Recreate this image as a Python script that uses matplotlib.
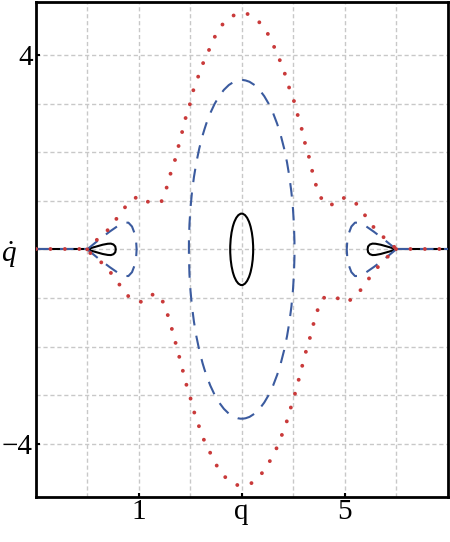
import matplotlib
matplotlib.use("Agg")
import matplotlib.pyplot as plt
from matplotlib.patches import Ellipse

plt.rcParams['font.family'] = ['Liberation Serif', 'DejaVu Serif']
plt.rcParams['mathtext.fontset'] = 'custom'
plt.rcParams['mathtext.it'] = 'Liberation Serif:italic'
plt.rcParams['mathtext.rm'] = 'Liberation Serif'

# axis setup
x_range = [-1, 7]
y_range = [-5.09, 5.09]
x_ticks = [1, 3, 5]
x_ticklabels = ['1', 'q', '5']
y_ticks = [-4, 0, 4]
y_ticklabels = ['\u22124', '', '4']
y_label = r'$\dot{q}$'
grid_x = [0, 1, 2, 3, 4, 5, 6]
grid_y = [-4, -3, -2, -1, 0, 1, 2, 3, 4]

# black solid contour: central ellipse + two tear-drop loops + tails on the axis
black_center = (3.0, 0.0)
black_size = (0.446, 1.47)
black_left_q = [0, 0.1, 0.2, 0.3, 0.4, 0.46, 0.51, 0.545, 0.555, 0.545, 0.51, 0.46, 0.4, 0.3, 0.2, 0.1, 0]
black_left_p = [0, 0.035, 0.065, 0.095, 0.115, 0.118, 0.10, 0.06, 0, -0.06, -0.10, -0.118, -0.115, -0.095, -0.065, -0.035, 0]
black_right_q = [6, 5.9, 5.8, 5.7, 5.6, 5.54, 5.49, 5.455, 5.445, 5.455, 5.49, 5.54, 5.6, 5.7, 5.8, 5.9, 6]
black_right_p = [0, 0.035, 0.065, 0.095, 0.115, 0.118, 0.10, 0.06, 0, -0.06, -0.10, -0.118, -0.115, -0.095, -0.065, -0.035, 0]
tail_left_q = [-1, 0]
tail_right_q = [6, 7]
tail_p = [0, 0]

# blue dashed contour
blue_center = (3.0, 0.0)
blue_size = (2.05, 6.97)
blue_left_q = [0, 0.22, 0.43, 0.62, 0.72, 0.80, 0.87, 0.92, 0.95, 0.96, 0.95, 0.92, 0.87, 0.80, 0.72, 0.62, 0.43, 0.22, 0]
blue_left_p = [0, 0.19, 0.36, 0.50, 0.545, 0.55, 0.47, 0.33, 0.17, 0, -0.17, -0.33, -0.47, -0.55, -0.545, -0.50, -0.36, -0.19, 0]
blue_right_q = [6, 5.78, 5.57, 5.38, 5.28, 5.20, 5.13, 5.08, 5.05, 5.04, 5.05, 5.08, 5.13, 5.20, 5.28, 5.38, 5.57, 5.78, 6]
blue_right_p = [0, 0.19, 0.36, 0.50, 0.545, 0.55, 0.47, 0.33, 0.17, 0, -0.17, -0.33, -0.47, -0.55, -0.545, -0.50, -0.36, -0.19, 0]

# red dotted contour (upper branch left->right, then lower branch right->left)
red_q = [0, 0.01, 0.25, 0.44, 0.61, 0.78, 0.99, 1.21, 1.44, 1.54, 1.61, 1.70, 1.77, 1.84, 1.91,
         1.99, 2.06, 2.15, 2.25, 2.36, 2.47, 2.62, 2.83, 3.09, 3.33, 3.50, 3.62, 3.73, 3.83, 3.91,
         4.01, 4.08, 4.16, 4.22, 4.30, 4.36, 4.43, 4.53, 4.71, 4.93, 5.17, 5.35, 5.50, 5.67, 5.90, 6.0,
         5.74, 5.57, 5.40, 5.24, 5.03, 4.78, 4.58, 4.47, 4.39, 4.32, 4.24, 4.17, 4.10, 4.03, 3.95,
         3.87, 3.78, 3.67, 3.54, 3.39, 3.18, 2.91, 2.67, 2.52, 2.39, 2.27, 2.17, 2.08, 2.01, 1.93,
         1.86, 1.79, 1.72, 1.65, 1.57, 1.48, 1.31, 1.08, 0.84, 0.67, 0.50, 0.34, 0.11, 0]
red_p = [0, 0.07, 0.24, 0.44, 0.69, 0.93, 1.10, 0.96, 0.98, 1.26, 1.53, 1.82, 2.11, 2.40, 2.70,
         2.97, 3.27, 3.54, 3.83, 4.09, 4.36, 4.62, 4.81, 4.86, 4.69, 4.45, 4.19, 3.92, 3.64, 3.36,
         3.07, 2.79, 2.50, 2.22, 1.93, 1.65, 1.36, 1.07, 0.89, 1.07, 1.01, 0.77, 0.535, 0.32, 0.13, 0,
         -0.24, -0.46, -0.70, -0.94, -1.10, -0.96, -1.00, -1.26, -1.55, -1.84, -2.13, -2.42, -2.71, -2.99, -3.27,
         -3.56, -3.82, -4.11, -4.37, -4.61, -4.82, -4.85, -4.68, -4.46, -4.19, -3.93, -3.64, -3.36, -3.08, -2.80,
         -2.51, -2.22, -1.94, -1.66, -1.37, -1.09, -0.90, -1.09, -1.02, -0.79, -0.54, -0.32, -0.14, 0]

black = '#000000'
blue = '#3b5b9f'
red = '#c93a3a'

fig = plt.figure(figsize=(4.5, 5.42), dpi=100)
ax = fig.add_axes([0.0793, 0.0836, 0.9156, 0.9127])

# black solid
ax.add_patch(Ellipse(black_center, black_size[0], black_size[1], fill=False, ec=black, lw=1.5, zorder=3))
ax.plot(black_left_q, black_left_p, color=black, lw=1.5, zorder=3)
ax.plot(black_right_q, black_right_p, color=black, lw=1.5, zorder=3)
ax.plot(tail_left_q, tail_p, color=black, lw=1.5, zorder=3)
ax.plot(tail_right_q, tail_p, color=black, lw=1.5, zorder=3)

# blue dashed
blue_dash = (0, (6.5, 5))
ax.add_patch(Ellipse(blue_center, blue_size[0], blue_size[1], fill=False, ec=blue, lw=1.5,
                     linestyle=blue_dash, zorder=4))
for qq, pp in [(blue_left_q, blue_left_p), (blue_right_q, blue_right_p),
               (tail_left_q, tail_p), (tail_right_q, tail_p)]:
    ax.plot(qq, pp, color=blue, lw=1.5, linestyle=blue_dash, zorder=4)

# red dotted
red_dot = (0, (0.01, 3.7))
for qq, pp in [(red_q, red_p), (tail_left_q, tail_p), (tail_right_q, tail_p)]:
    ax.plot(qq, pp, color=red, lw=2.8, linestyle=red_dot, dash_capstyle='round', zorder=5)

ax.set_xlim(x_range)
ax.set_ylim(y_range)
ax.set_xticks(x_ticks)
ax.set_xticklabels(x_ticklabels)
ax.set_yticks(y_ticks)
ax.set_yticklabels(y_ticklabels)
ax.set_xticks(grid_x, minor=True)
ax.set_yticks(grid_y, minor=True)
ax.tick_params(which='major', direction='in', length=3, width=1.5, labelsize=21, pad=2)
ax.tick_params(which='minor', length=0)
ax.set_ylabel(y_label, fontsize=21, rotation=0, ha='center', va='center')
ax.yaxis.set_label_coords(-0.066, 0.49)
ax.grid(True, which='both', color='#c8c8c8', linestyle=(0, (3, 2)), linewidth=1.0, zorder=0)
ax.set_axisbelow(True)
for s in ax.spines.values():
    s.set_linewidth(2)

fig.savefig('out.png', dpi=100)
